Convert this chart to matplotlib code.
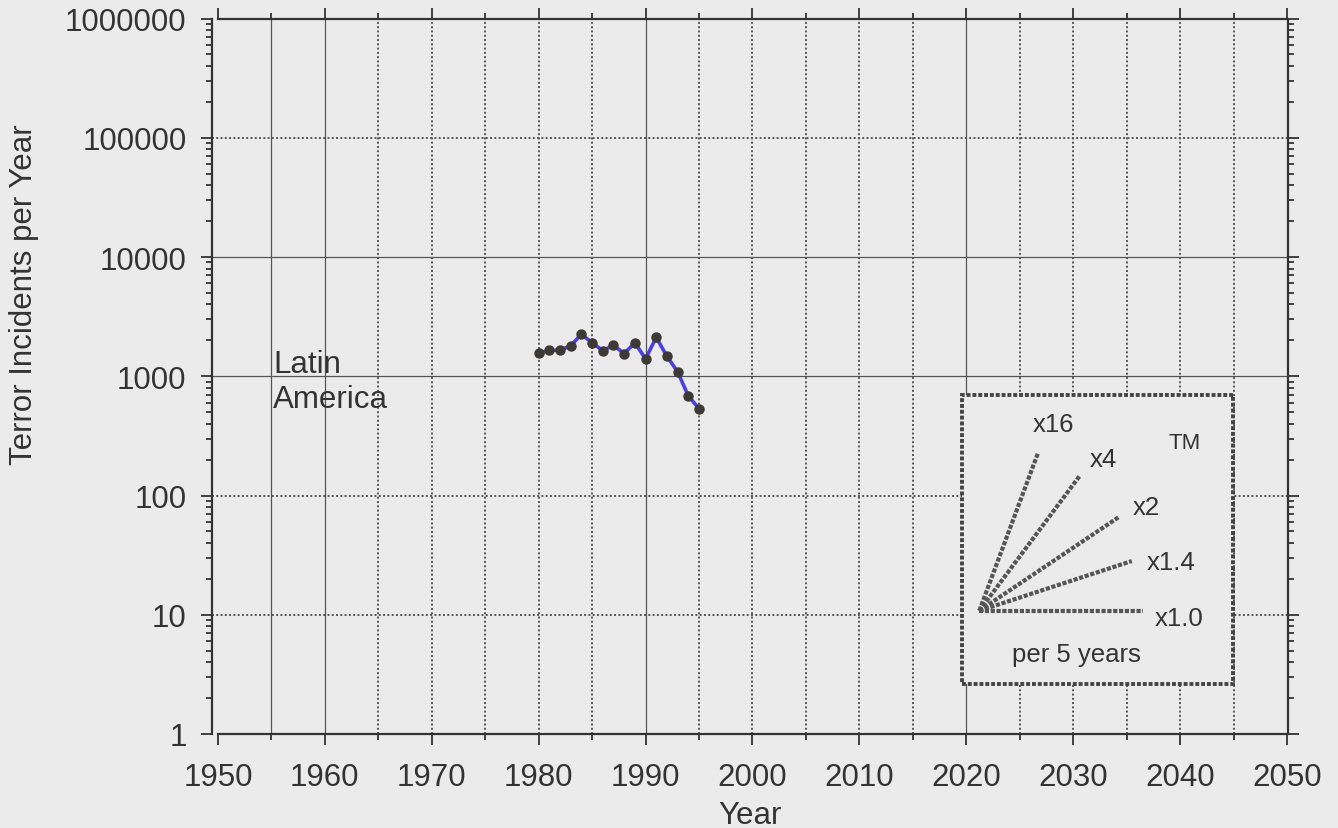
import numpy as np
import matplotlib
matplotlib.use('Agg')
import matplotlib.pyplot as plt
from matplotlib.patches import Rectangle
from matplotlib.ticker import FixedLocator, LogLocator, NullFormatter

# Latin America, terror incidents per year
years = [1980, 1981, 1982, 1983, 1984, 1985, 1986, 1987,
         1988, 1989, 1990, 1991, 1992, 1993, 1994, 1995]
incidents = [1560, 1650, 1650, 1800, 2250, 1910, 1640, 1820,
             1550, 1910, 1400, 2120, 1470, 1090, 685, 535]

x_ticks = [1950, 1960, 1970, 1980, 1990, 2000, 2010, 2020, 2030, 2040, 2050]
y_ticks = [1, 10, 100, 1000, 10000, 100000, 1000000]
y_labels = ['1', '10', '100', '1000', '10000', '100000', '1000000']

# growth-rate key: factor per 5 years and label
key_factors = [16, 4, 2, 1.4, 1.0]
key_labels = ['x16', 'x4', 'x2', 'x1.4', 'x1.0']

bg = '#ebebeb'
ink = '#333333'
plt.rcParams['font.family'] = ['Liberation Sans', 'DejaVu Sans']

fig = plt.figure(figsize=(13.38, 8.29), dpi=100, facecolor=bg)
ax = fig.add_axes([211.5 / 1338, 94 / 829, 1076 / 1338, 715.5 / 829])
ax.set_facecolor(bg)
ax.set_yscale('log')
ax.set_xlim(1949.4, 2050.05)
ax.set_ylim(1, 1e6)

# grid: some lines printed solid, others dotted
solid_x = [1955, 1960, 1990, 2020]
for yr in range(1955, 2050, 5):
    if yr in solid_x:
        ax.axvline(yr, color='#555555', lw=0.9, zorder=1)
    else:
        ax.axvline(yr, color='#555555', lw=1.4, ls=(0, (1, 1.2)), zorder=1)
for v in [10, 100, 1000, 10000, 100000]:
    if v in (1000, 10000):
        ax.axhline(v, color='#555555', lw=0.9, zorder=1)
    else:
        ax.axhline(v, color='#555555', lw=1.4, ls=(0, (1, 1.2)), zorder=1)

ax.plot(years, incidents, color='#4b3fe0', lw=2.6, zorder=4)
ax.plot(years, incidents, 'o', color='#3d3935', ms=6.5, zorder=5)

ax.text(1955.15, 1086, 'Latin', fontsize=22.5, color=ink, va='baseline')
ax.text(1955.15, 552, 'America', fontsize=22.5, color=ink, va='baseline')

# key box
box = Rectangle((2019.58, 2.63), 2044.93 - 2019.58, 696 - 2.63,
                facecolor=bg, edgecolor='#444444', lw=2.8,
                ls=(0, (1, 0.5)), zorder=3)
ax.add_patch(box)
x0, y0 = 2021.22, 10.8
key_ends = [2026.74, 2030.64, 2034.23, 2035.48, 2036.56]
for f, xe in zip(key_factors, key_ends):
    ye = y0 * f ** ((xe - x0) / 5.0)
    ax.plot([x0, xe], [y0, ye], color='#555555', lw=3,
            ls=(0, (1, 0.4)), zorder=4)
label_pos = [(2028.15, 398), (2032.83, 202), (2036.88, 79.6),
             (2039.13, 27.5), (2039.93, 9.34)]
for lab, (lx, ly) in zip(key_labels, label_pos):
    ax.text(lx, ly, lab, fontsize=18.5, color=ink, ha='center', va='center', zorder=5)
ax.text(2040.47, 279, 'TM', fontsize=16, color=ink, ha='center', va='center', zorder=5)
ax.text(2030.27, 4.69, 'per 5 years', fontsize=18.5, color=ink, ha='center', va='center', zorder=5)

# axes and ticks
for s in ax.spines.values():
    s.set_color(ink)
    s.set_linewidth(1.6)
ax.spines['bottom'].set_bounds(1950, 2050)
ax.spines['top'].set_bounds(1950, 2050)

ax.xaxis.set_major_locator(FixedLocator(x_ticks))
ax.xaxis.set_minor_locator(FixedLocator(list(range(1955, 2050, 10))))
ax.set_xticklabels([str(t) for t in x_ticks])
ax.yaxis.set_major_locator(FixedLocator(y_ticks))
ax.set_yticklabels(y_labels)
ax.yaxis.set_minor_locator(LogLocator(base=10, subs=np.arange(2, 10), numticks=20))
ax.yaxis.set_minor_formatter(NullFormatter())

ax.tick_params(which='both', direction='out', colors=ink, top=True, right=True,
               labelsize=22.5, width=1.3)
ax.tick_params(which='major', length=8)
ax.tick_params(which='minor', length=4.5)
ax.tick_params(axis='x', pad=12)
ax.tick_params(axis='y', pad=10)

fig.text(24 / 1338, 1 - 295 / 829, 'Terror Incidents per Year', rotation=90,
         fontsize=22.5, color=ink, ha='center', va='center')
fig.text(750 / 1338, 1 - 816 / 829, 'Year', fontsize=22.5, color=ink,
         ha='center', va='center')

fig.savefig('out.png', dpi=100, facecolor=bg)
